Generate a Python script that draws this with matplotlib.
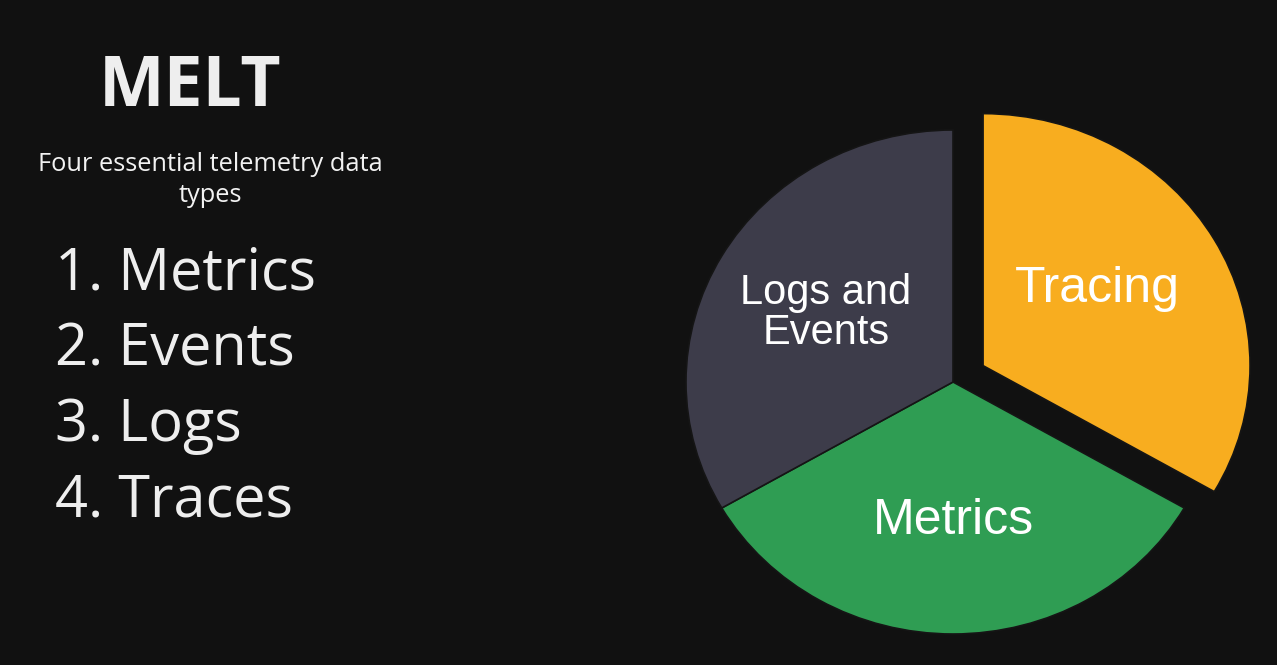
import matplotlib.pyplot as plt

# Données
titre = "MELT"
sous_titre = "Four essential telemetry data\ntypes"
liste = ["1. Metrics", "2. Events", "3. Logs", "4. Traces"]

parts = ["Tracing", "Metrics", "Logs and\nEvents"]
valeurs = [1, 1, 1]
couleurs = ["#f8ad1f", "#2f9d53", "#3d3c4a"]
eclatement = [0.13, 0, 0]

fond = "#111111"
W, H = 1277, 665

fig = plt.figure(figsize=(W / 100, H / 100), dpi=100, facecolor=fond)

# Texte à gauche
fig.text(190 / W, 1 - 88 / H, titre, ha="center", va="center", fontsize=50,
         fontweight="bold", family="Open Sans", color="#eeeeee")
fig.text(210 / W, 1 - 180 / H, sous_titre, ha="center", va="center", fontsize=18.3,
         family="Open Sans", color="#f2f2f2", linespacing=1.3)
for i, item in enumerate(liste):
    fig.text(55 / W, 1 - (290 + 75.5 * i) / H, item, ha="left", va="baseline",
             fontsize=41.5, family="Open Sans", color="#eeeeee")

# Camembert (légèrement elliptique)
rx, ry = 267, 252
cx, cy = 953, 382
lim = 1.3
ax = fig.add_axes([(cx - lim * rx) / W, (H - cy - lim * ry) / H,
                   2 * lim * rx / W, 2 * lim * ry / H])
ax.set_facecolor(fond)
wedges, textes = ax.pie(valeurs, labels=parts, colors=couleurs, explode=eclatement,
                        startangle=90, counterclock=False, labeldistance=0.55,
                        wedgeprops=dict(edgecolor="#151515", linewidth=1.2))
ax.set_aspect("auto")
ax.set_xlim(-lim, lim)
ax.set_ylim(-lim, lim)
tailles = [36, 36, 30]
for t, s in zip(textes, tailles):
    t.set_ha("center")
    t.set_va("center")
    t.set_fontsize(s)
    t.set_family("Liberation Sans")
    t.set_color("white")
    t.set_linespacing(1.0)

# petit décalage du libellé "Tracing" vers le haut à gauche
x0, y0 = textes[0].get_position()
textes[0].set_position((x0 - 0.05, y0 + 0.03))

plt.savefig("out.png", dpi=100, facecolor=fond)
